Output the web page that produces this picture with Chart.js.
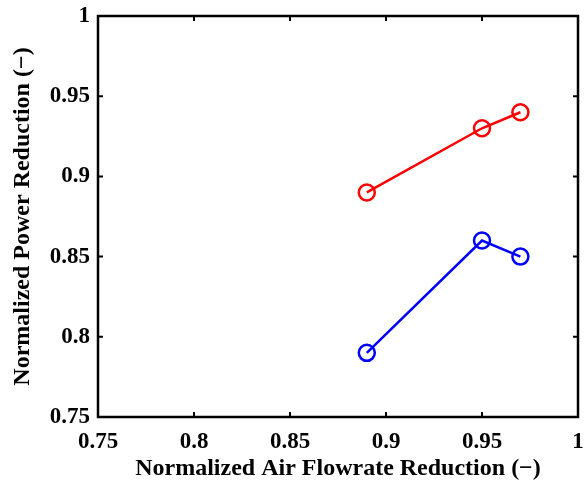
<!DOCTYPE html>
<html><head><meta charset="utf-8">
<script src="https://cdn.jsdelivr.net/npm/chart.js@4/dist/chart.umd.min.js"></script>
<style>html,body{margin:0;padding:0;background:#fff;overflow:hidden}#wrap{width:584px;height:487px}canvas{display:block}</style>
</head><body><div id="wrap"><canvas id="c" width="584" height="487"></canvas></div>
<script>
const airFlow = [0.89, 0.95, 0.97];
const powerRed = [0.89, 0.93, 0.94];
const powerBlue = [0.79, 0.86, 0.85];
const xTicks = [0.75, 0.8, 0.85, 0.9, 0.95, 1];
const yTicks = [0.75, 0.8, 0.85, 0.9, 0.95, 1];
const xTitle = 'Normalized Air Flowrate Reduction (−)';
const yTitle = 'Normalized Power Reduction (−)';

const FONT = '"Liberation Serif", "Times New Roman", serif';
const toPts = (xs, ys) => xs.map((x, i) => ({x, y: ys[i]}));

const boxPlugin = {
  id: 'box',
  afterDraw(chart) {
    const {ctx, chartArea: a, scales} = chart;
    ctx.save();
    ctx.strokeStyle = '#000';
    ctx.lineWidth = 2.5;
    ctx.strokeRect(a.left, a.top, a.right - a.left, a.bottom - a.top);
    ctx.lineWidth = 2;
    const L = 5;
    ctx.beginPath();
    xTicks.forEach(v => {
      const px = scales.x.getPixelForValue(v);
      ctx.moveTo(px, a.bottom); ctx.lineTo(px, a.bottom - L);
      ctx.moveTo(px, a.top); ctx.lineTo(px, a.top + L);
    });
    yTicks.forEach(v => {
      const py = scales.y.getPixelForValue(v);
      ctx.moveTo(a.left, py); ctx.lineTo(a.left + L, py);
      ctx.moveTo(a.right, py); ctx.lineTo(a.right - L, py);
    });
    ctx.stroke();
    ctx.fillStyle = '#000';
    ctx.font = 'bold 23px ' + FONT;
    ctx.textAlign = 'center';
    ctx.textBaseline = 'middle';
    xTicks.forEach(v => {
      ctx.fillText(String(v), scales.x.getPixelForValue(v), a.bottom + 25);
    });
    ctx.restore();
  }
};

const ds = (ys, color) => ({
  data: toPts(airFlow, ys), borderColor: color, backgroundColor: 'rgba(0,0,0,0)',
  showLine: true, borderWidth: 2.5, pointRadius: 8, pointBorderWidth: 2.5, pointStyle: 'circle'
});

new Chart(document.getElementById('c'), {
  type: 'scatter',
  data: {datasets: [ds(powerRed, '#ff0000'), ds(powerBlue, '#0000ff')]},
  options: {
    responsive: false,
    animation: false,
    events: [],
    layout: {autoPadding: false, padding: {top: 16, right: 6, left: 0, bottom: 0}},
    plugins: {legend: {display: false}, tooltip: {enabled: false}},
    scales: {
      x: {
        type: 'linear', min: 0.75, max: 1,
        afterBuildTicks: s => { s.ticks = xTicks.map(v => ({value: v})); },
        afterFit: s => { s.height = 70; s.paddingLeft = 0; s.paddingRight = 0; },
        grid: {display: false, drawTicks: false},
        border: {display: false},
        ticks: {display: false},
        title: {display: true, text: xTitle, color: '#000', padding: {top: 0, bottom: 4}, font: {family: FONT, weight: 'bold', size: 24}}
      },
      y: {
        type: 'linear', min: 0.75, max: 1,
        afterBuildTicks: s => { s.ticks = yTicks.map(v => ({value: v})); },
        afterFit: s => { s.width = 98; s.paddingTop = 0; s.paddingBottom = 0; },
        grid: {display: false, drawTicks: false},
        border: {display: false},
        ticks: {color: '#000', padding: 8, font: {family: FONT, weight: 'bold', size: 23}, callback: v => String(v)},
        title: {display: true, text: yTitle, color: '#000', padding: {top: 8, bottom: 0}, font: {family: FONT, weight: 'bold', size: 24}}
      }
    }
  },
  plugins: [boxPlugin]
});
</script></body></html>
